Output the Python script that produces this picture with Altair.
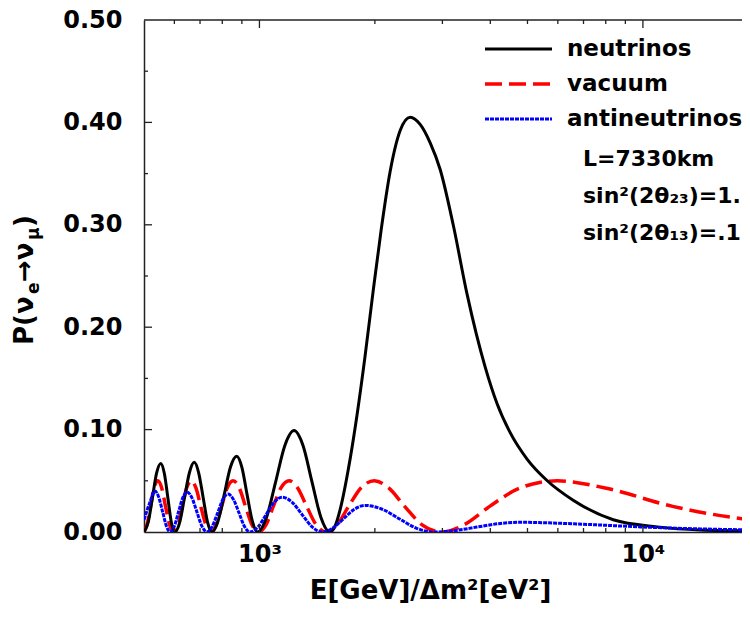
import altair as alt
import pandas as pd

FONT = "DejaVu Sans"

# ---- data (E in GeV/eV^2, P probability) ----
neutrino_E = [500, 513, 526, 539, 553, 565, 577, 589, 602, 620, 638, 657, 676,
              694, 713, 732, 752, 780, 810, 840, 872, 900, 928, 958, 988,
              1044, 1103, 1165, 1231, 1299, 1370, 1446, 1525, 1576, 1624, 1703,
              1798, 1886, 1979, 2077, 2192, 2328, 2472, 2625, 2788, 2960, 3201,
              3480, 3879, 4169, 4507, 4993, 5595, 6579, 8368, 10900, 14110, 20000]
neutrino_P = [0.0, 0.0098, 0.0335, 0.0572, 0.067, 0.0572, 0.0335, 0.0098, 0.0, 0.0099, 0.034, 0.0581, 0.068,
              0.0581, 0.034, 0.0099, 0.0, 0.0108, 0.037, 0.0632, 0.074, 0.0632, 0.037, 0.0108, 0.0,
              0.0145, 0.0495, 0.0845, 0.099, 0.0845, 0.0495, 0.0145, 0.0, 0.006, 0.022, 0.060,
              0.115, 0.172, 0.235, 0.295, 0.352, 0.392, 0.405, 0.398, 0.380, 0.354, 0.300,
              0.232, 0.161, 0.125, 0.097, 0.071, 0.051, 0.031, 0.012, 0.005, 0.002, 0.001]

vacuum_E = [500, 509, 520, 531, 543, 556, 569, 583, 598, 613, 629, 646, 664, 683,
            703, 725, 747, 771, 797, 824, 854, 886, 920, 956, 996, 1040, 1087,
            1138, 1195, 1258, 1328, 1406, 1494, 1594, 1708, 1839, 1992, 2173,
            2391, 2656, 2988, 3415, 3985, 4782, 5977, 7969, 11954, 15939, 20000]
vacuum_P = [0.0, 0.007, 0.025, 0.043, 0.050, 0.043, 0.025, 0.007, 0.0, 0.007, 0.025, 0.043, 0.050, 0.043,
            0.025, 0.007, 0.0, 0.007, 0.025, 0.043, 0.050, 0.043, 0.025, 0.007, 0.0, 0.007, 0.025,
            0.043, 0.050, 0.043, 0.025, 0.007, 0.0, 0.007, 0.025, 0.043, 0.050, 0.043,
            0.025, 0.007, 0.0, 0.007, 0.025, 0.043, 0.050, 0.043, 0.025, 0.016, 0.011]

anti_E = [500, 517, 534, 546, 559, 572, 585, 600, 615, 631, 647, 667, 687, 708, 730,
          753, 778, 802, 828, 856, 885, 914, 945, 992, 1041, 1092, 1146, 1217, 1292,
          1372, 1457, 1554, 1658, 1768, 1886, 2090, 2314, 2563, 2838, 3236, 3686,
          4200, 4786, 6579, 9840, 14110, 20000]
anti_P = [0.012, 0.028, 0.040, 0.0342, 0.020, 0.0058, 0.0, 0.0057, 0.0195, 0.0333, 0.039, 0.0333, 0.0195, 0.0057, 0.0,
          0.0054, 0.0185, 0.0316, 0.037, 0.0316, 0.0185, 0.0054, 0.0, 0.005, 0.017, 0.029, 0.034, 0.029, 0.017,
          0.005, 0.0, 0.0038, 0.013, 0.0222, 0.026, 0.0222, 0.013, 0.0038, 0.0, 0.0014, 0.0048,
          0.0081, 0.0095, 0.008, 0.005, 0.003, 0.002]

y_ticks_major = [0.0, 0.1, 0.2, 0.3, 0.4, 0.5]
y_ticks_minor = [0.05, 0.15, 0.25, 0.35, 0.45]
x_ticks_major = [1000, 10000]
x_ticks_minor = [600, 700, 800, 900, 2000, 3000, 4000, 5000, 6000, 7000, 8000, 9000]

series_names = ["neutrinos", "vacuum", "antineutrinos"]

df = pd.concat([
    pd.DataFrame({"E": neutrino_E, "P": neutrino_P, "series": series_names[0]}),
    pd.DataFrame({"E": vacuum_E, "P": vacuum_P, "series": series_names[1]}),
    pd.DataFrame({"E": anti_E, "P": anti_P, "series": series_names[2]}),
])

W, H = 598, 512

x_scale = alt.Scale(type="log", domain=[500, 18130], nice=False)
y_scale = alt.Scale(domain=[0, 0.5], nice=False)

x_axis = alt.Axis(
    values=x_ticks_major,
    labelExpr="datum.value == 1000 ? '10³' : '10⁴'",
    ticks=False, tickSize=0, grid=False,
    domainColor="#222", domainWidth=1.5,
    labelFont=FONT, labelFontSize=24, labelFontWeight="bold", labelColor="black",
    labelPadding=10, labelFlush=False, labelOverlap=False,
    title="E[GeV]/Δm²[eV²]", titleFont=FONT, titleFontSize=26, titleFontWeight="bold",
    titleColor="black", titleX=286, titleY=58, titleBaseline="middle", titleAlign="center",
)
y_axis = alt.Axis(
    values=y_ticks_major, format=".2f",
    ticks=False, tickSize=0, grid=False,
    domainColor="#222", domainWidth=1.5,
    labelFont=FONT, labelFontSize=24, labelFontWeight="bold", labelColor="black",
    labelPadding=22, labelFlush=False, labelOverlap=False,
    title=None,
)

X = alt.X("E:Q", scale=x_scale, axis=x_axis)
Y = alt.Y("P:Q", scale=y_scale, axis=y_axis)

base = alt.Chart(df).encode(x=X, y=Y)

vac = base.transform_filter("datum.series == 'vacuum'").mark_line(
    color="#ff0000", strokeWidth=3.5, strokeDash=[17, 7], interpolate="monotone", clip=True)
neu = base.transform_filter("datum.series == 'neutrinos'").mark_line(
    color="black", strokeWidth=3, interpolate="monotone", clip=True)
anti = base.transform_filter("datum.series == 'antineutrinos'").mark_line(
    color="#0000ff", strokeWidth=3, strokeDash=[4, 1], interpolate="monotone", clip=True)

# inward ticks
def xticks(vals, length):
    d = pd.DataFrame({"E": vals})
    bot = alt.Chart(d).mark_rule(color="#222", strokeWidth=1.3).encode(
        x=X, y=alt.value(H), y2=alt.value(H - length))
    top = alt.Chart(d).mark_rule(color="#222", strokeWidth=1.3).encode(
        x=X, y=alt.value(0), y2=alt.value(length))
    return bot + top

def yticks(vals, length):
    d = pd.DataFrame({"P": vals})
    return alt.Chart(d).mark_rule(color="#222", strokeWidth=1.3).encode(
        y=Y, x=alt.value(0), x2=alt.value(length))

one = pd.DataFrame({"a": [0]})
top_line = alt.Chart(one).mark_rule(color="#222", strokeWidth=1.5).encode(
    x=alt.value(0), x2=alt.value(W), y=alt.value(0))

def label(text, x, y, size, angle=0, align="left", baseline="middle"):
    return alt.Chart(one).mark_text(
        text=text, font=FONT, fontSize=size, fontWeight="bold", color="black",
        align=align, baseline=baseline, angle=angle).encode(
        x=alt.value(x), y=alt.value(y))

def legend_line(y, color, dash=None, width=3):
    kw = dict(color=color, strokeWidth=width)
    if dash:
        kw["strokeDash"] = dash
    return alt.Chart(one).mark_rule(**kw).encode(
        x=alt.value(341), x2=alt.value(408), y=alt.value(y))

legend = (
    legend_line(29, "black", None, 3)
    + legend_line(64, "#ff0000", [17, 7], 3.5)
    + legend_line(99, "#0000ff", [4, 1], 3)
    + label("neutrinos", 423, 29, 23)
    + label("vacuum", 423, 64, 23)
    + label("antineutrinos", 423, 99, 23)
    + label("L=7330km", 439, 139, 22)
    + label("sin²(2θ₂₃)=1.", 439, 176, 22)
    + label("sin²(2θ₁₃)=.1", 439, 213, 22)
)

# rotated y title P(ν_e → ν_μ)
ybx = -111
ytitle = (
    label("P(ν", ybx, 325, 26, angle=270, baseline="alphabetic")
    + label("e", ybx + 6, 274, 17, angle=270, baseline="alphabetic")
    + label("→ν", ybx, 262, 26, angle=270, baseline="alphabetic")
    + label("μ", ybx + 6, 220, 17, angle=270, baseline="alphabetic")
    + label(")", ybx, 207, 26, angle=270, baseline="alphabetic")
)

chart = alt.layer(
    vac, neu, anti,
    xticks(x_ticks_minor, 4), xticks(x_ticks_major, 8),
    yticks(y_ticks_minor, 4), yticks(y_ticks_major[1:-1], 8),
    top_line, legend, ytitle,
).properties(
    width=W, height=H,
    autosize=alt.AutoSizeParams(type="none"),
    padding={"left": 136, "top": 12, "right": 0, "bottom": 80},
).configure_view(stroke=None).configure_axis(grid=False)

chart.save("out.html", embed_options={"renderer": "svg", "actions": False})
